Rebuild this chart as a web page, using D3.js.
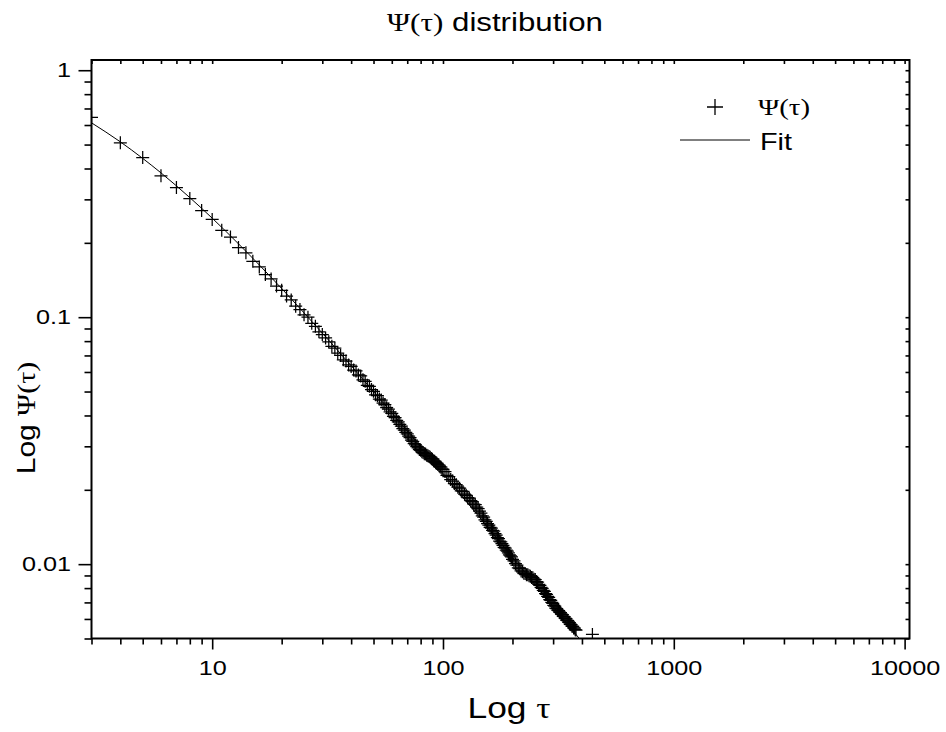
<!DOCTYPE html>
<html>
<head>
<meta charset="utf-8">
<script src="https://cdn.jsdelivr.net/npm/d3@7"></script>
<style>
  html, body { margin: 0; padding: 0; background: #fff; }
  svg { display: block; font-family: "Liberation Sans", Arial, sans-serif; }
  .greek { font-family: "Liberation Serif", "DejaVu Serif", serif; }
</style>
</head>
<body>
<svg id="chart" width="946" height="732"></svg>
<script>
// measured distribution: every tau up to 100, then every 2nd / 3rd (points overlap into a band there)
const tauValues = [
    3, 4, 5, 6, 7, 8, 9, 10, 11, 12, 13, 14, 15, 16, 17, 18, 19, 20, 21, 22, 23, 24, 25, 26, 27, 28, 29, 30,
    31, 32, 33, 34, 35, 36, 37, 38, 39, 40, 41, 42, 43, 44, 45, 46, 47, 48, 49, 50,
    51, 52, 53, 54, 55, 56, 57, 58, 59, 60, 61, 62, 63, 64, 65, 66, 67, 68, 69, 70,
    71, 72, 73, 74, 75, 76, 77, 78, 79, 80, 81, 82, 83, 84, 85, 86, 87, 88, 89, 90,
    91, 92, 93, 94, 95, 96, 97, 98, 99, 100,
    102, 104, 106, 108, 110, 112, 114, 116, 118, 120, 122, 124, 126, 128, 130, 132, 134, 136, 138, 140,
    142, 144, 146, 148, 150, 152, 154, 156, 158, 160, 162, 164, 166, 168, 170, 172, 174, 176, 178, 180,
    182, 184, 186, 188, 190, 192, 194, 196, 198, 200,
    203, 206, 209, 212, 215, 218, 221, 224, 227, 230, 233, 236, 239, 242, 245, 248, 251, 254, 257, 260,
    263, 266, 269, 272, 275, 278, 281, 284, 287, 290, 293, 296, 299, 302, 305, 308, 311, 314, 317, 320,
    323, 326, 329, 332, 335, 338, 341, 344, 347, 350, 353, 356, 359, 362, 365, 368, 371, 374, 377,
    444];
const psiValues = [
    0.644, 0.508, 0.4428, 0.3736, 0.3348, 0.3021, 0.2703, 0.2487, 0.2248, 0.2111,
    0.1915, 0.1823, 0.1684, 0.1597, 0.1488, 0.1429, 0.1337, 0.1285, 0.1218, 0.1175,
    0.1108, 0.1074, 0.1022, 0.1000, 0.0944, 0.0918, 0.0873, 0.0850,
    0.0824, 0.0795, 0.0762, 0.0749, 0.0715, 0.0700, 0.0672, 0.0664, 0.0641, 0.0632,
    0.0611, 0.0606, 0.0584, 0.0578, 0.0558, 0.0550, 0.0530, 0.0525, 0.0509, 0.0501,
    0.0485, 0.0481, 0.0466, 0.0462, 0.0449, 0.0443, 0.0430, 0.0424, 0.0414, 0.0408,
    0.0397, 0.0392, 0.0382, 0.0377, 0.0368, 0.0362, 0.0354, 0.0349, 0.0342, 0.0337,
    0.0330, 0.0325, 0.0318, 0.0314, 0.0308, 0.0304, 0.0299, 0.0296, 0.0291, 0.0289,
    0.0285, 0.0283, 0.0280, 0.0279, 0.0276, 0.0275, 0.0273, 0.0271, 0.0268, 0.0266,
    0.0262, 0.0261, 0.0258, 0.0256, 0.0253, 0.0252, 0.0248, 0.0247, 0.0243, 0.0242,
    0.0237, 0.0229, 0.0226, 0.0220, 0.0217, 0.0212, 0.0210, 0.0205, 0.0203, 0.0198,
    0.0197, 0.0192, 0.0190, 0.0186, 0.0185, 0.0181, 0.0179, 0.0175, 0.0174, 0.0170,
    0.0168, 0.0164, 0.0161, 0.0157, 0.0155, 0.0151, 0.0149, 0.0146, 0.0144, 0.0141,
    0.0140, 0.0137, 0.0136, 0.0133, 0.0131, 0.0128, 0.0127, 0.0124, 0.0123, 0.0121,
    0.0119, 0.0117, 0.0116, 0.0114, 0.0113, 0.0111, 0.0109, 0.0108, 0.0107, 0.01045,
    0.01030, 0.01004, 0.00992, 0.00967, 0.00959, 0.00939, 0.00931, 0.00919, 0.00916, 0.00907,
    0.00906, 0.00897, 0.00894, 0.00884, 0.00881, 0.00869, 0.00866, 0.00850, 0.00845, 0.00828,
    0.00821, 0.00805, 0.00798, 0.00783, 0.00775, 0.00760, 0.00754, 0.00740, 0.00733, 0.00719,
    0.00713, 0.00700, 0.00693, 0.00681, 0.00676, 0.00664, 0.00661, 0.00651, 0.00649, 0.00639,
    0.00636, 0.00627, 0.00625, 0.00615, 0.00613, 0.00604, 0.00602, 0.00592, 0.00591, 0.00582,
    0.00580, 0.00571, 0.00569, 0.00561, 0.00560, 0.00552, 0.00551, 0.00543, 0.00541,
    0.00519];

// fit curve
const fitTau = [3, 4, 5, 6, 8, 10, 13, 16, 20, 25, 32, 40, 50, 63, 80, 100, 126, 160, 200, 250, 320, 400];
const fitPsi = [0.6124, 0.5129, 0.4395, 0.3841, 0.3049, 0.2518, 0.1982, 0.1627, 0.1306, 0.1041, 0.0806,
    0.0636, 0.0500, 0.0389, 0.0298, 0.02328, 0.01797, 0.01373, 0.01067, 0.00828, 0.00625, 0.00485];

const xDomain = [3, 10500];
const yDomain = [0.005, 1.1];
const xMajor = [10, 100, 1000, 10000];
const yMajor = [0.01, 0.1, 1];
const xTickLabels = ['10', '100', '1000', '10000'];
const yTickLabels = ['0.01', '0.1', '1'];

const plot = { left: 91.5, right: 909.5, top: 60, bottom: 638.5 };
const stretch = 1.2; // the source text is a bit wider than plain Arial

const svg = d3.select('#chart');

const x = d3.scaleLog().domain(xDomain).range([plot.left, plot.right]);
const y = d3.scaleLog().domain(yDomain).range([plot.bottom, plot.top]);

const xMinor = x.ticks().filter(d => !xMajor.includes(d));
const yMinor = y.ticks().filter(d => !yMajor.some(m => Math.abs(m - d) < 1e-9));

function widen(sel, factor) {
    sel.each(function () {
        const w = this.getComputedTextLength();
        d3.select(this).attr('textLength', w * factor).attr('lengthAdjust', 'spacingAndGlyphs');
    });
}

function styleAxis(g) {
    g.select('.domain').remove();
    g.selectAll('.tick line').attr('stroke', '#000').attr('stroke-width', 1.6);
    g.selectAll('.tick text')
        .attr('fill', '#000')
        .style('font-size', '21px')
        .style('font-family', '"Liberation Sans", Arial, sans-serif');
}

// bottom axis
svg.append('g')
    .attr('transform', `translate(0,${plot.bottom})`)
    .call(d3.axisBottom(x).tickValues(xMinor).tickSize(6).tickFormat(''))
    .call(styleAxis);
const xAxisG = svg.append('g')
    .attr('transform', `translate(0,${plot.bottom})`)
    .call(d3.axisBottom(x).tickValues(xMajor).tickSize(11).tickPadding(10.5)
        .tickFormat((d, i) => xTickLabels[i]))
    .call(styleAxis);
widen(xAxisG.selectAll('.tick text'), stretch);

// left axis
svg.append('g')
    .attr('transform', `translate(${plot.left},0)`)
    .call(d3.axisLeft(y).tickValues(yMinor).tickSize(7).tickFormat(''))
    .call(styleAxis);
const yAxisG = svg.append('g')
    .attr('transform', `translate(${plot.left},0)`)
    .call(d3.axisLeft(y).tickValues(yMajor).tickSize(13).tickPadding(7.5)
        .tickFormat((d, i) => yTickLabels[i]))
    .call(styleAxis);
widen(yAxisG.selectAll('.tick text'), stretch);

// top and right axes, ticks pointing in
svg.append('g')
    .attr('transform', `translate(0,${plot.top})`)
    .call(d3.axisTop(x).tickValues(x.ticks()).tickSize(-4).tickFormat(''))
    .call(styleAxis);
svg.append('g')
    .attr('transform', `translate(${plot.right},0)`)
    .call(d3.axisRight(y).tickValues(y.ticks()).tickSize(-4).tickFormat(''))
    .call(styleAxis);

// frame
svg.append('rect')
    .attr('x', plot.left)
    .attr('y', plot.top)
    .attr('width', plot.right - plot.left)
    .attr('height', plot.bottom - plot.top)
    .attr('fill', 'none')
    .attr('stroke', '#000')
    .attr('stroke-width', 2);

svg.append('clipPath')
    .attr('id', 'plot-clip')
    .append('rect')
    .attr('x', plot.left)
    .attr('y', plot.top)
    .attr('width', plot.right - plot.left)
    .attr('height', plot.bottom - plot.top);

const plotG = svg.append('g').attr('clip-path', 'url(#plot-clip)');

// fit line
const fitLine = d3.line()
    .x(d => x(d[0]))
    .y(d => y(d[1]))
    .curve(d3.curveMonotoneX);

plotG.append('path')
    .datum(fitTau.map((t, i) => [t, fitPsi[i]]))
    .attr('d', fitLine)
    .attr('fill', 'none')
    .attr('stroke', '#000')
    .attr('stroke-width', 1);

// data crosses
const cross = 'M-6.5,0H6.5M0,-6.5V6.5';
plotG.selectAll('.pt')
    .data(tauValues.map((t, i) => [t, psiValues[i]]))
    .enter()
    .append('path')
    .attr('class', 'pt')
    .attr('d', cross)
    .attr('transform', d => `translate(${x(d[0])},${y(d[1])})`)
    .attr('fill', 'none')
    .attr('stroke', '#000')
    .attr('stroke-width', 1.25);

// legend
const legend = svg.append('g');
legend.append('path')
    .attr('d', 'M-8,0H8M0,-8V8')
    .attr('transform', 'translate(715,107)')
    .attr('fill', 'none')
    .attr('stroke', '#000')
    .attr('stroke-width', 1.3);
const legPsi = legend.append('text')
    .attr('x', 758)
    .attr('y', 115)
    .attr('class', 'greek')
    .style('font-size', '24px')
    .text('Ψ(τ)');
widen(legPsi, stretch);
legend.append('line')
    .attr('x1', 680)
    .attr('x2', 750)
    .attr('y1', 140)
    .attr('y2', 140)
    .attr('stroke', '#000')
    .attr('stroke-width', 1);
const legFit = legend.append('text')
    .attr('x', 760)
    .attr('y', 150)
    .style('font-size', '24px')
    .text('Fit');
widen(legFit, stretch);

// titles
const title = svg.append('text')
    .attr('x', 495)
    .attr('y', 31)
    .attr('text-anchor', 'middle')
    .style('font-size', '26px');
title.append('tspan').attr('class', 'greek').text('Ψ(τ)');
title.append('tspan').text(' distribution');
widen(title, stretch);

const xTitle = svg.append('text')
    .attr('x', 509)
    .attr('y', 718)
    .attr('text-anchor', 'middle')
    .style('font-size', '29px');
xTitle.append('tspan').text('Log ');
xTitle.append('tspan').attr('class', 'greek').text('τ');
widen(xTitle, 1.22);

const yTitle = svg.append('text')
    .attr('transform', 'translate(35,418) rotate(-90)')
    .attr('text-anchor', 'middle')
    .style('font-size', '25px');
yTitle.append('tspan').text('Log ');
yTitle.append('tspan').attr('class', 'greek').text('Ψ(τ)');
widen(yTitle, stretch);
</script>
</body>
</html>
